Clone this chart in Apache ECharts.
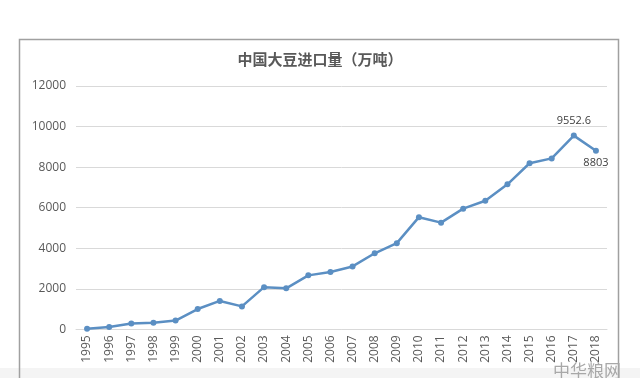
<!DOCTYPE html>
<html>
<head>
<meta charset="utf-8">
<script src="https://cdn.jsdelivr.net/npm/echarts@6/dist/echarts.min.js"></script>
<style>
  html, body { margin: 0; padding: 0; background: #fff; }
  #main { width: 640px; height: 378px; }
</style>
</head>
<body>
<div id="main"></div>
<script>
// 年份
var years = ['1995','1996','1997','1998','1999','2000','2001','2002','2003','2004','2005','2006',
             '2007','2008','2009','2010','2011','2012','2013','2014','2015','2016','2017','2018'];
// 进口量（万吨）
var imports = [30, 110, 290, 320, 430, 1000, 1400, 1130, 2080, 2020, 2660, 2830,
               3100, 3750, 4250, 5530, 5260, 5950, 6340, 7150, 8190, 8430, 9552.6, 8803];
// 显示数值标签的年份
var labelYears = ['2017', '2018'];
var yTicks = { min: 0, max: 12000, interval: 2000 };

var myChart = echarts.init(document.getElementById('main'));
myChart.setOption({
    animation: false,
    textStyle: { fontFamily: 'Open Sans, Noto Sans CJK SC, sans-serif' },
    title: {
        text: '中国大豆进口量（万吨）',
        left: 'center',
        top: 47,
        textStyle: { fontSize: 15, fontWeight: 'bold', color: '#595959', fontFamily: 'Noto Sans CJK SC' }
    },
    graphic: [
        {
            type: 'rect',
            shape: { x: 19.5, y: 39.5, width: 599, height: 360 },
            style: { fill: 'none', stroke: '#a0a0a0', lineWidth: 1.5 },
            z: -1
        },
        {
            type: 'rect',
            shape: { x: 0, y: 368, width: 640, height: 10 },
            style: { fill: '#f4f4f4' },
            z: -2
        },
        {
            type: 'text',
            left: 553,
            top: 362,
            style: { text: '中华粮网', fill: '#a8a8a8', font: '17px Noto Sans CJK SC' },
            z: 10
        }
    ],
    grid: { left: 76, right: 33, top: 86, bottom: 48.7 },
    xAxis: {
        type: 'category',
        data: years,
        boundaryGap: true,
        axisLine: { lineStyle: { color: '#d9d9d9' } },
        axisTick: { show: false },
        axisLabel: { rotate: 90, fontSize: 12, color: '#595959', margin: 6, interval: 0 }
    },
    yAxis: {
        type: 'value',
        min: yTicks.min,
        max: yTicks.max,
        interval: yTicks.interval,
        axisLine: { show: false },
        axisTick: { show: false },
        axisLabel: { fontSize: 12, color: '#595959', margin: 10, formatter: function (v) { return String(v); } },
        splitLine: { lineStyle: { color: '#d9d9d9' } }
    },
    series: [{
        type: 'line',
        data: imports.map(function (v, i) {
            var item = { value: v };
            if (labelYears.indexOf(years[i]) >= 0) {
                item.label = {
                    show: true,
                    position: years[i] === '2018' ? 'bottom' : 'top',
                    distance: years[i] === '2018' ? 4 : 6,
                    fontSize: 11,
                    color: '#404040'
                };
            }
            return item;
        }),
        symbol: 'circle',
        symbolSize: 6,
        lineStyle: { color: '#5b8fc3', width: 2.5 },
        itemStyle: { color: '#5b8fc3' }
    }]
});
</script>
</body>
</html>
